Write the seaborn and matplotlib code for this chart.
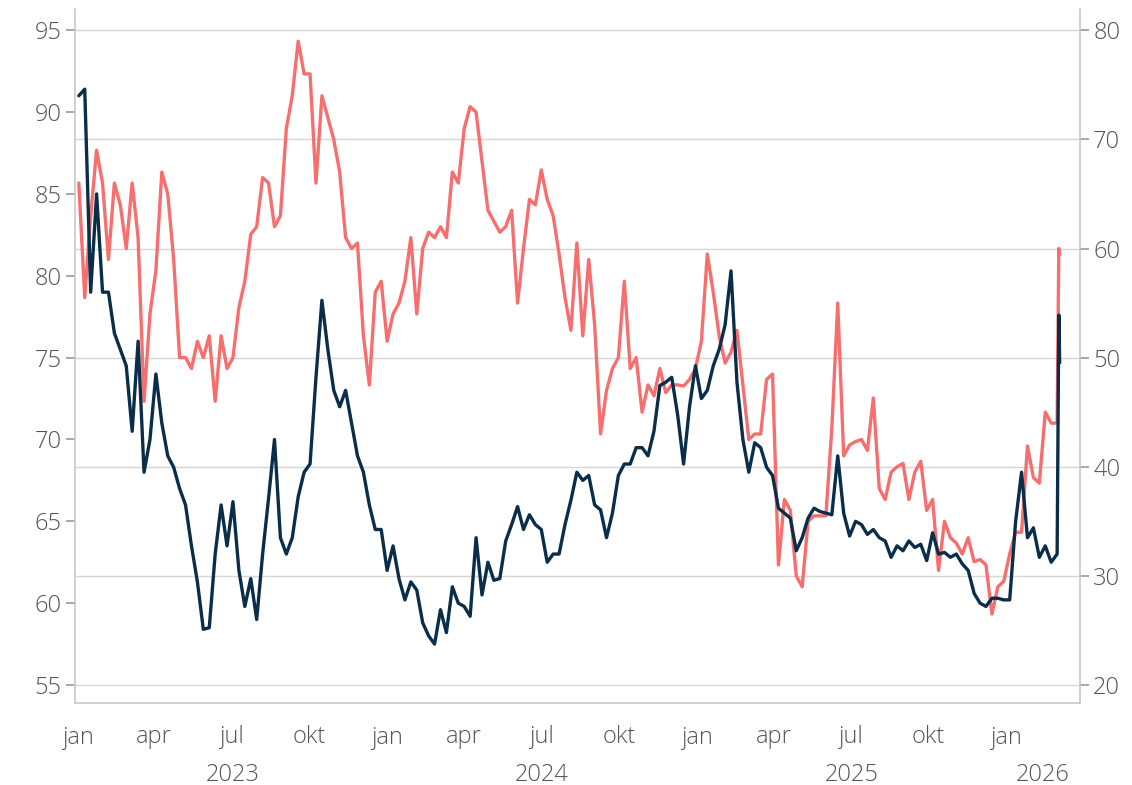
import pandas as pd
import matplotlib
matplotlib.use("Agg")
import matplotlib.pyplot as plt
import matplotlib.dates as mdates
import matplotlib.transforms as mtransforms
from matplotlib.ticker import FuncFormatter
import seaborn as sns

# weekly readings (mondays) plus the two last days
week_dates = list(pd.date_range("2023-01-02", periods=166, freq="7D"))
extra_dates = [pd.Timestamp("2026-03-04"), pd.Timestamp("2026-03-05")]

# dark line, left axis
navy_vals = [
    91, 91.4, 79, 85, 79, 79, 76.5, 75.5, 74.5, 70.5,
    76, 68, 70, 74, 71, 69, 68.3, 67, 66, 63.5,
    61.3, 58.4, 58.5, 63, 66, 63.5, 66.2, 62, 59.8, 61.5,
    59, 63, 66.4, 70, 64, 63, 64, 66.5, 68, 68.5,
    73.8, 78.5, 75.5, 73, 72, 73, 71, 69, 68, 66,
    64.5, 64.5, 62, 63.5, 61.5, 60.2, 61.3, 60.8, 58.8, 58,
    57.5, 59.6, 58.2, 61, 60, 59.8, 59.2, 64, 60.5, 62.5,
    61.4, 61.5, 63.8, 64.8, 65.9, 64.5, 65.4, 64.8, 64.5, 62.5,
    63, 63, 64.8, 66.3, 68, 67.5, 67.8, 66, 65.7, 64,
    65.5, 67.8, 68.5, 68.5, 69.5, 69.5, 69, 70.5, 73.3, 73.5,
    73.8, 71.5, 68.5, 72, 74.5, 72.5, 73, 74.5, 75.5, 77,
    80.3, 73.5, 70, 68, 69.8, 69.5, 68.3, 67.8, 65.8, 65.5,
    65.2, 63.2, 64, 65.2, 65.8, 65.6, 65.5, 65.4, 69, 65.5,
    64.1, 65, 64.8, 64.2, 64.5, 64, 63.8, 62.8, 63.5, 63.2,
    63.8, 63.4, 63.6, 62.6, 64.3, 63, 63.1, 62.8, 63, 62.4,
    62, 60.6, 60, 59.8, 60.3, 60.3, 60.2, 60.2, 65, 68,
    64, 64.6, 62.8, 63.5, 62.5, 63,
    77.6, 74.7,
]

# coral line, right axis
red_vals = [
    66, 55.5, 63, 69, 66, 59, 66, 64, 60, 66,
    61, 46, 54, 58, 67, 65, 59, 50, 50, 49,
    51.5, 50, 52, 46, 52, 49, 50, 54.6, 57, 61.3,
    62, 66.5, 66, 62, 63, 71, 74, 79, 76, 76,
    66, 74, 72, 70, 67, 61, 60, 60.5, 52, 47.5,
    56, 57, 51.5, 54, 55, 57, 61, 54, 60, 61.5,
    61, 62, 61, 67, 66, 71, 73, 72.5, 68, 63.5,
    62.5, 61.5, 62, 63.5, 55, 60, 64.5, 64, 67.2, 64.5,
    63, 59.5, 55.5, 52.5, 60.5, 52, 59, 53, 43, 47,
    49, 50, 57, 49, 50, 45, 47.5, 46.5, 49, 46.8,
    47.5, 47.5, 47.4, 48, 49, 51.5, 59.5, 56, 52, 49.5,
    50.5, 52.5, 47.5, 42.5, 43, 43, 48, 48.5, 31, 37,
    36, 30, 29, 35, 35.5, 35.5, 35.5, 43.5, 55, 41,
    42, 42.3, 42.5, 41.5, 46.3, 38, 37, 39.5, 40, 40.3,
    37, 39.5, 40.5, 36, 37, 30.5, 35, 33.5, 33, 32,
    33.5, 31.3, 31.5, 31, 26.5, 29, 29.5, 32, 34, 34,
    41.9, 39, 38.5, 45, 44, 44,
    60, 59.5,
]

left_ticks = [55, 60, 65, 70, 75, 80, 85, 90, 95]
right_ticks = [20, 30, 40, 50, 60, 70, 80]
month_names = {1: "jan", 4: "apr", 7: "jul", 10: "okt"}
years = [2023, 2024, 2025, 2026]

NAVY = "#0a2e4a"
RED = "#f76e6e"
TXT = "#555555"
FS = 17

sns.set_theme(style="white")
plt.rcParams["font.family"] = ["Open Sans", "DejaVu Sans"]
plt.rcParams["font.weight"] = "light"

df = pd.DataFrame({"date": week_dates + extra_dates, "navy": navy_vals, "red": red_vals})

fig = plt.figure(figsize=(11.32, 7.85), dpi=100)
ax = fig.add_axes([75 / 1132, 82 / 785, 1005 / 1132, 694 / 785])
ax2 = ax.twinx()

sns.lineplot(data=df, x="date", y="red", ax=ax2, color=RED, linewidth=2.4)
sns.lineplot(data=df, x="date", y="navy", ax=ax, color=NAVY, linewidth=2.4)

# dark line drawn over the coral one
ax.set_zorder(ax2.get_zorder() + 1)
ax.patch.set_visible(False)

ax.set_xlim(pd.Timestamp("2022-12-28 12:00"), pd.Timestamp("2026-03-29"))
ax.set_ylim(53.9, 96.3)
ax2.set_ylim(18.35, 81.95)
ax.set_xlabel("")
ax.set_ylabel("")
ax2.set_ylabel("")

# grid from the right axis
ax.grid(False)
ax2.grid(axis="y", color="#d6d6d6", linewidth=1.0)
ax2.grid(axis="x", visible=False)

for s in ["top"]:
    ax.spines[s].set_visible(False)
    ax2.spines[s].set_visible(False)
for s in ["left", "bottom"]:
    ax2.spines[s].set_visible(False)
ax.spines["right"].set_visible(False)
for sp in [ax.spines["left"], ax.spines["bottom"], ax2.spines["right"]]:
    sp.set_color("#c4c4c4")
    sp.set_linewidth(1.1)

ax.set_yticks(left_ticks)
ax2.set_yticks(right_ticks)
ax.tick_params(axis="y", length=6.5, width=1.2, color="#9a9a9a", pad=3,
               labelsize=FS, labelcolor=TXT)
ax2.tick_params(axis="y", length=6.5, width=1.2, color="#9a9a9a", pad=3,
                labelsize=FS, labelcolor=TXT)

fmt = FuncFormatter(lambda v, p: month_names.get(mdates.num2date(v).month, ""))
ax.xaxis.set_major_locator(mdates.MonthLocator(bymonth=[1]))
ax.xaxis.set_minor_locator(mdates.MonthLocator(bymonth=[4, 7, 10]))
ax.xaxis.set_major_formatter(fmt)
ax.xaxis.set_minor_formatter(fmt)
ax.tick_params(axis="x", which="major", length=7.5, width=1.3, color="#444444",
               pad=9, labelsize=FS, labelcolor=TXT)
ax.tick_params(axis="x", which="minor", length=3.5, width=1.3, color="#777777",
               pad=12.5, labelsize=FS, labelcolor=TXT)

# year labels centred under the visible part of each year
trans = mtransforms.blended_transform_factory(ax.transData, ax.transAxes)
x0, x1 = ax.get_xlim()
for yr in years:
    a = max(mdates.date2num(pd.Timestamp(f"{yr}-01-01")), x0)
    b = min(mdates.date2num(pd.Timestamp(f"{yr + 1}-01-01")), x1)
    ax.text((a + b) / 2, -0.104, str(yr), transform=trans, ha="center",
            va="center", fontsize=FS, color=TXT)

fig.savefig("out.png", dpi=100)
